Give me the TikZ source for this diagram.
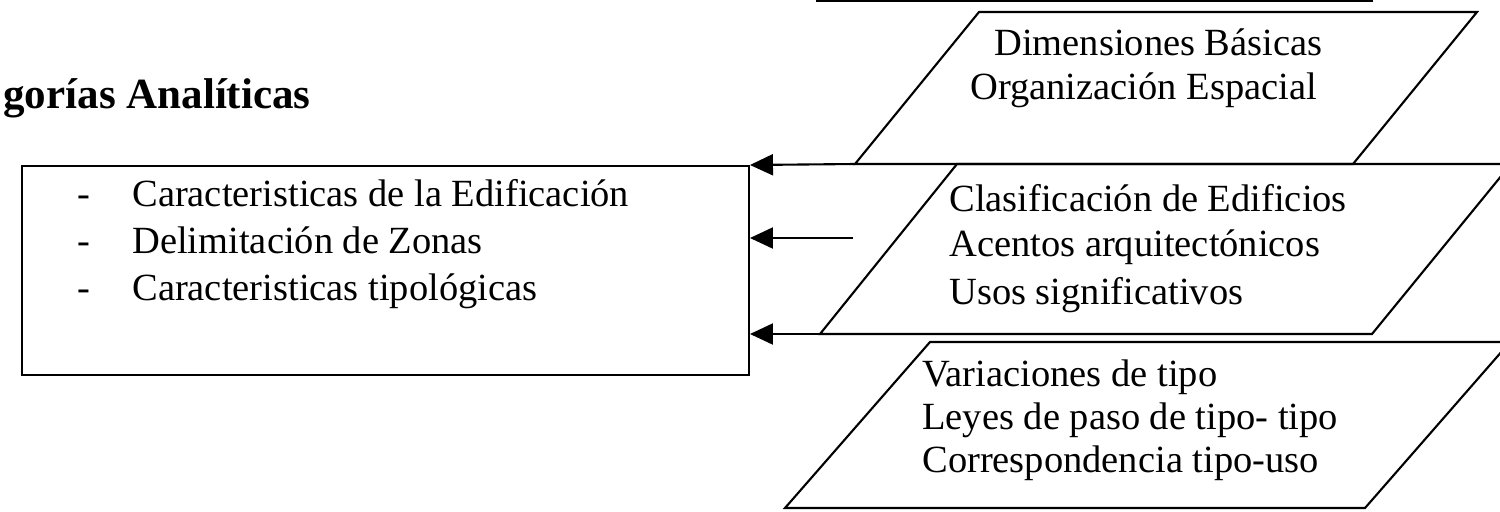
\documentclass[tikz,border=0pt]{standalone}
\usepackage{fontspec}
\setmainfont{Liberation Serif}
\usetikzlibrary{arrows.meta}
\usetikzlibrary{positioning}

\begin{document}
\begin{tikzpicture}[x=0.02cm,y=-0.02cm,
  line/.style={line width=1.2pt},
  txt/.style={font=\fontsize{21.9}{26}\selectfont, inner sep=0pt, text height=0.72em, text depth=0.22em},
  arr/.style={line width=1.2pt, -{Triangle[length=0.46cm,width=0.42cm]}}]

  % Fix the frame
  \useasboundingbox (0,0) rectangle (1500,511);
  \clip (0,0) rectangle (1500,511);

  % Shape above the frame (only its lower edge shows)
  \draw[line] (817,-40) rectangle (1372,1);

  % Title
  \node[txt, font=\fontsize{24.5}{28}\selectfont\bfseries, anchor=east] (title) at (311,104) {gorías Analíticas};

  % The box with the categories
  \node[draw, line, anchor=north west, minimum width=14.54cm, minimum height=4.18cm] (box) at (21,165) {};
  \node[txt] (d1) at (84,202) {-};
  \node[txt] (d2) at (84,249) {-};
  \node[txt] (d3) at (84,296) {-};
  \node[txt, anchor=west] (c1) at (132,202) {Caracteristicas de la Edificación};
  \node[txt, anchor=west] (c2) at (132,249) {Delimitación de Zonas};
  \node[txt, anchor=west] (c3) at (132,296) {Caracteristicas tipológicas};

  % The three parallelograms
  \draw[line] (855,164) coordinate (p1bl) -- (979,12) -- (1477,12) -- (1353,164) -- cycle;
  \draw[line] (820,334) coordinate (p2bl) -- (957,164) -- (1511,164) -- (1372,334) -- cycle;
  \draw[line] (785,508) coordinate (p3bl) -- (930,342) -- (1510,342) -- (1365,508) -- cycle;

  % Their texts
  \node[txt, anchor=west] (b1) at (994,51) {Dimensiones Básicas};
  \node[txt, anchor=west] (b2) at (970,95) {Organización Espacial};
  \node[txt, anchor=west] (e1) at (949,207) {Clasificación de Edificios};
  \node[txt, anchor=west] (e2) at (949,252) {Acentos arquitectónicos};
  \node[txt, anchor=west] (e3) at (949,300) {Usos significativos};
  \node[txt, anchor=west] (t1) at (922,382) {Variaciones de tipo};
  \node[txt, anchor=west] (t2) at (922,425) {Leyes de paso de tipo- tipo};
  \node[txt, anchor=west] (t3) at (922,468) {Correspondencia tipo-uso};

  % Arrows into the box
  \coordinate (m2) at (853,238);
  \coordinate (m3) at (855,334);
  \draw[arr] (p1bl) -- (box.north east);
  \draw[arr] (m2) -- (box.east |- m2);
  \draw[arr] (m3) -- (box.east |- m3);
\end{tikzpicture}
\end{document}
